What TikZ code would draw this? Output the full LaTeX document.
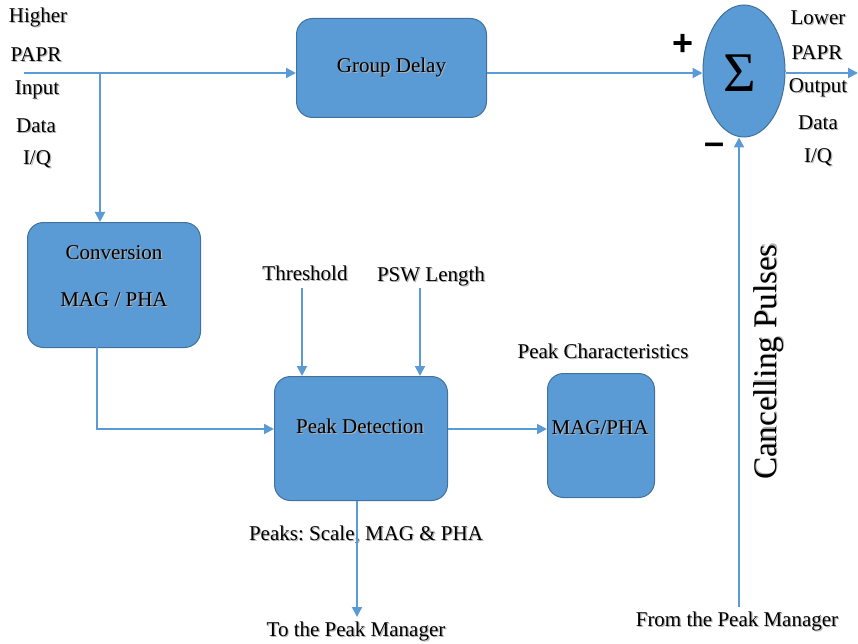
\documentclass[tikz,border=0pt]{standalone}
\usepackage{fontspec}
\setmainfont{Liberation Serif}
\newfontfamily\signfont{Liberation Sans}
\usetikzlibrary{arrows.meta,shapes.geometric}
\definecolor{boxfill}{HTML}{5B9BD5}
\definecolor{boxedge}{HTML}{41719C}
\definecolor{wire}{HTML}{5B9BD5}
\frenchspacing
% text with a soft drop shadow
\newcommand\shtxt[1]{\rlap{\kern1.2pt\raisebox{-1.2pt}{\textcolor{black!30}{#1}}}#1}
\tikzset{
  block/.style={draw=boxedge, line width=1pt, fill=boxfill, rounded corners=16pt, anchor=north west, inner sep=0pt},
  lbl/.style={font=\fontsize{21}{21}\selectfont, inner sep=0pt},
  sign/.style={font=\signfont\bfseries\fontsize{36}{36}\selectfont, inner sep=0pt},
  flow/.style={draw=wire, line width=2pt, -{Triangle[length=10pt,width=10pt]}},
}
\begin{document}
\begin{tikzpicture}[x=1pt,y=-1pt]
\useasboundingbox (0,0) rectangle (858,644);

% blocks
\node[block, minimum width=190pt, minimum height=99pt] (gd) at (296,18) {};
\node[lbl] at (gd.center) {\shtxt{Group Delay}};
\node[block, minimum width=173pt, minimum height=125pt] (conv) at (27,222) {};
\node[lbl] (convA) at (114,253) {\shtxt{Conversion}};
\node[lbl] (convB) at (114,300) {\shtxt{MAG / PHA}};
\node[block, minimum width=173pt, minimum height=124pt] (pd) at (274,376) {};
\node[lbl] at (360,427) {\shtxt{Peak Detection}};
\node[block, minimum width=107pt, minimum height=124pt] (mp) at (547,373) {};
\node[lbl] at (600,428) {\shtxt{MAG/PHA}};

% summing junction
\node[ellipse, draw=boxedge, line width=1pt, fill=boxfill, minimum width=82pt, minimum height=132pt, inner sep=0pt] (sum) at (744,71) {};
\node[font=\fontsize{56}{56}\selectfont, inner sep=0pt] at (740,73) {Σ};
\node[sign] at (683,45) {+};
\node[sign] at (714,149) {–};

% input labels
\node[lbl] at (38,18) {\shtxt{Higher}};
\node[lbl] at (36,55) {\shtxt{PAPR}};
\node[lbl] at (37,90) {\shtxt{Input}};
\node[lbl] at (36,126) {\shtxt{Data}};
\node[lbl] at (37,160) {\shtxt{I/Q}};

% output labels
\node[lbl] at (818,18) {\shtxt{Lower}};
\node[lbl] at (817,53) {\shtxt{PAPR}};
\node[lbl] at (818,88) {\shtxt{Output}};
\node[lbl] at (818,123) {\shtxt{Data}};
\node[lbl] at (818,158) {\shtxt{I/Q}};

% other labels
\node[lbl] (thr) at (305,274) {\shtxt{Threshold}};
\node[lbl] (psw) at (431,277) {\shtxt{PSW Length}};
\node[lbl] at (603,352) {\shtxt{Peak Characteristics}};
\node[lbl] at (366,535) {\shtxt{Peaks: Scale, MAG \& PHA}};
\node[lbl] (tpm) at (356,632) {\shtxt{To the Peak Manager}};
\node[lbl] (fpm) at (737,622) {\shtxt{From the Peak Manager}};
\node[font=\fontsize{33}{33}\selectfont, inner sep=0pt, rotate=90] at (769,362) {\shtxt{Cancelling Pulses}};

% connectors
\coordinate (in) at (24,73);
\coordinate (br) at (100,73);
\coordinate (out) at (858,73);
\coordinate (thrE) at (302,288);
\coordinate (pswE) at (420,288);
\coordinate (pmE) at (357,617);
\coordinate (fpE) at (739,607);

\draw[flow] (in) -- (gd.west |- in);
\draw[flow] (br) -- (conv.north -| br);
\draw[flow] (gd.east |- in) -- (sum.west |- in);
\draw[flow] (sum.east |- in) -- (out);
\draw[flow] (97,347) |- (pd.west |- 0,429);
\draw[flow] (thrE) -- (pd.north -| thrE);
\draw[flow] (pswE) -- (pd.north -| pswE);
\draw[flow] (pd.east |- 0,429) -- (mp.west |- 0,429);
\draw[flow] (pd.south -| pmE) -- (pmE);
\draw[flow] (fpE) -- (sum.south -| fpE);
\end{tikzpicture}
\end{document}
